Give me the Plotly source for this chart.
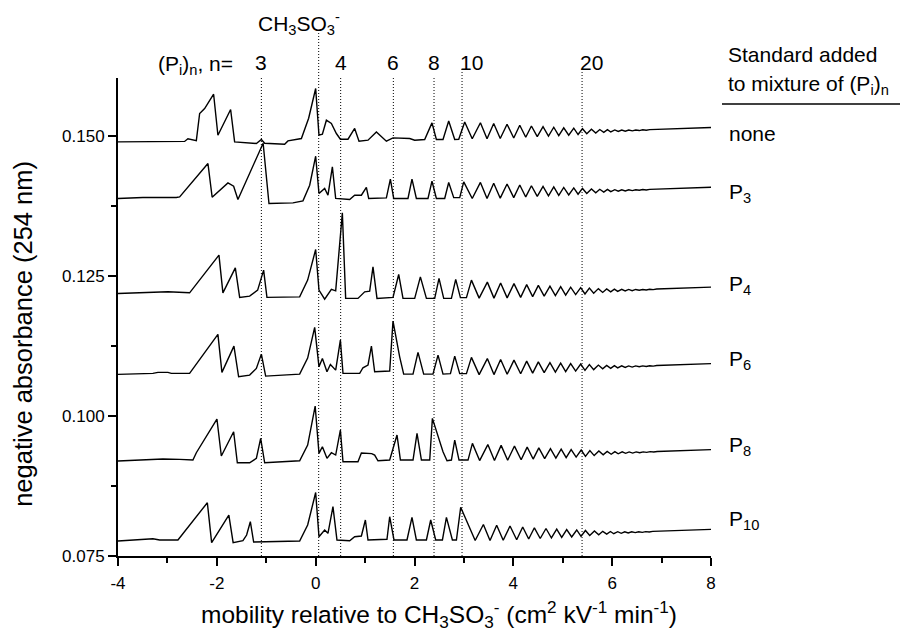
import plotly.graph_objects as go

# ---------------- data ----------------
# explicit early part of every electropherogram (x = mobility, y = negative absorbance)
none_x = [-4.0, -2.652, -2.585, -2.510, -2.415, -2.348, -2.247, -2.065, -1.978, -1.721, -1.640, -1.200, -1.099,
          -1.032, -0.628, -0.561, -0.289, -0.142, 0.000, 0.067, 0.136, 0.217, 0.318, 0.419, 0.500, 0.654, 0.789,
          0.877, 1.059, 1.229, 1.431, 1.565, 1.903, 2.004, 2.206, 2.354, 2.443, 2.577, 2.692, 2.814, 2.895, 3.016]
none_y = [0.14898, 0.14907, 0.14955, 0.14937, 0.14920, 0.15405, 0.15495, 0.15750, 0.15018, 0.15477, 0.14898,
          0.14870, 0.14941, 0.14875, 0.14857, 0.14916, 0.14959, 0.15321, 0.15852, 0.15018, 0.15036, 0.15286,
          0.15227, 0.15048, 0.14946, 0.14946, 0.15138, 0.14911, 0.14929, 0.15077, 0.14911, 0.14970, 0.14959,
          0.14929, 0.14941, 0.15238, 0.14941, 0.14941, 0.15273, 0.14941, 0.14946, 0.15255]

p3_x = [-4.0, -3.496, -2.820, -2.753, -2.180, -2.095, -1.775, -1.660, -1.573, -1.063, -0.945, -0.460, -0.257,
        -0.121, 0.000, 0.067, 0.182, 0.249, 0.338, 0.405, 0.688, 0.789, 0.925, 1.026, 1.073, 1.431, 1.512, 1.579,
        1.868, 1.949, 2.038, 2.273, 2.354, 2.443, 2.611, 2.692, 2.794, 2.915, 2.996]
p3_y = [0.13888, 0.13905, 0.13905, 0.13916, 0.14512, 0.13911, 0.14166, 0.14107, 0.13870, 0.14875, 0.13798,
        0.13809, 0.13845, 0.14125, 0.14643, 0.13977, 0.14066, 0.13946, 0.14452, 0.13888, 0.13870, 0.13946,
        0.13946, 0.14084, 0.13888, 0.13898, 0.14232, 0.13888, 0.13888, 0.14232, 0.13888, 0.13888, 0.14196,
        0.13888, 0.13888, 0.14173, 0.13902, 0.13902, 0.14184]

p4_x = [-4.0, -3.294, -2.990, -2.551, -1.957, -1.877, -1.626, -1.538, -1.336, -1.174, -1.053, -0.986, -0.324,
        -0.162, 0.000, 0.067, 0.182, 0.318, 0.405, 0.540, 0.607, 0.856, 0.992, 1.093, 1.160, 1.241, 1.565, 1.680,
        1.767, 2.004, 2.119, 2.241, 2.409, 2.496, 2.591, 2.747, 2.834, 2.929, 3.051, 3.152]
p4_y = [0.12191, 0.12220, 0.12220, 0.12202, 0.12875, 0.12202, 0.12648, 0.12120, 0.12143, 0.12250, 0.12607,
        0.12120, 0.12130, 0.12429, 0.12977, 0.12250, 0.12089, 0.12263, 0.12238, 0.13630, 0.12102, 0.12102,
        0.12220, 0.12232, 0.12666, 0.12102, 0.12120, 0.12530, 0.12102, 0.12102, 0.12487, 0.12102, 0.12102,
        0.12459, 0.12102, 0.12102, 0.12441, 0.12116, 0.12116, 0.12429]

p6_x = [-4.0, -3.294, -3.192, -2.990, -2.921, -2.551, -1.978, -1.897, -1.654, -1.559, -1.336, -1.200, -1.099,
        -1.012, -0.324, -0.162, -0.020, 0.067, 0.136, 0.229, 0.298, 0.405, 0.500, 0.553, 0.891, 0.957, 1.059,
        1.128, 1.194, 1.498, 1.565, 1.700, 1.781, 1.970, 2.071, 2.186, 2.374, 2.476, 2.577, 2.727, 2.814, 2.915,
        3.051, 3.152]
p6_y = [0.10745, 0.10763, 0.10780, 0.10780, 0.10763, 0.10763, 0.11459, 0.10780, 0.11250, 0.10702, 0.10732,
        0.10852, 0.11107, 0.10714, 0.10750, 0.11036, 0.11584, 0.10880, 0.11030, 0.10791, 0.10923, 0.10821,
        0.11357, 0.10763, 0.10763, 0.10863, 0.10911, 0.11250, 0.10791, 0.10804, 0.11696, 0.11059, 0.10750,
        0.10750, 0.11138, 0.10750, 0.10750, 0.11089, 0.10750, 0.10759, 0.11071, 0.10759, 0.10759, 0.11048]

p8_x = [-4.0, -3.294, -3.091, -2.753, -2.484, -2.415, -1.998, -1.909, -1.660, -1.585, -1.336, -1.200, -1.113,
        -1.032, -0.324, -0.162, -0.010, 0.067, 0.136, 0.229, 0.318, 0.405, 0.500, 0.553, 0.856, 0.925, 1.134,
        1.194, 1.261, 1.498, 1.646, 1.715, 1.970, 2.051, 2.140, 2.308, 2.362, 2.577, 2.658, 2.747, 2.814, 2.901,
        3.083, 3.172]
p8_y = [0.09196, 0.09214, 0.09232, 0.09227, 0.09214, 0.09345, 0.09947, 0.09286, 0.09720, 0.09166, 0.09166,
        0.09245, 0.09602, 0.09166, 0.09202, 0.09482, 0.10179, 0.09334, 0.09452, 0.09245, 0.09345, 0.09304,
        0.09750, 0.09184, 0.09184, 0.09339, 0.09330, 0.09304, 0.09202, 0.09214, 0.09661, 0.09214, 0.09214,
        0.09691, 0.09214, 0.09214, 0.09959, 0.09363, 0.09202, 0.09214, 0.09571, 0.09214, 0.09214, 0.09512]

p10_x = [-4.0, -3.496, -3.294, -3.158, -2.787, -2.192, -2.105, -1.757, -1.670, -1.472, -1.397, -1.322, -1.255,
         -0.324, -0.162, 0.000, 0.067, 0.182, 0.249, 0.350, 0.431, 0.688, 0.789, 0.925, 1.006, 1.059, 1.443,
         1.498, 1.585, 1.848, 1.949, 2.038, 2.241, 2.328, 2.429, 2.565, 2.646, 2.767, 2.848, 2.935, 3.188]
p10_y = [0.07768, 0.07798, 0.07809, 0.07786, 0.07786, 0.08452, 0.07738, 0.08232, 0.07738, 0.07773, 0.07875,
         0.08113, 0.07750, 0.07768, 0.08054, 0.08634, 0.07845, 0.07965, 0.07905, 0.08381, 0.07786, 0.07773,
         0.07845, 0.07857, 0.08143, 0.07786, 0.07798, 0.08202, 0.07786, 0.07786, 0.08191, 0.07786, 0.07786,
         0.08143, 0.07786, 0.07786, 0.08191, 0.07786, 0.07786, 0.08370, 0.07857]

# oligomer ripple (n >= 11), common to all traces: positions and height above each trace's trough level
ripple_x = [3.168, 3.334, 3.468, 3.603, 3.735, 3.873, 4.008, 4.130, 4.251, 4.366, 4.484, 4.601, 4.711, 4.818,
            4.919, 5.020, 5.121, 5.223, 5.310, 5.399, 5.486, 5.581, 5.668, 5.749, 5.830, 5.905, 5.972, 6.053,
            6.123, 6.194, 6.265, 6.336, 6.407, 6.478, 6.549, 6.619, 6.690, 6.761, 8.0]
ripple_dy = [0, 0.00286, 0, 0.00271, 0.00005, 0.00259, 0.00014, 0.00241, 0.00027, 0.00227, 0.00036, 0.00214,
             0.00045, 0.00205, 0.00054, 0.00196, 0.00063, 0.00188, 0.00075, 0.00179, 0.00089, 0.00170, 0.00102,
             0.00164, 0.00113, 0.00161, 0.00121, 0.00157, 0.00129, 0.00155, 0.00134, 0.00155, 0.00141, 0.00155,
             0.00146, 0.00159, 0.00152, 0.00163, 0.00200]

trace_names = ["none", "P3", "P4", "P6", "P8", "P10"]
ripple_base = [0.14955, 0.13888, 0.12107, 0.10741, 0.09205, 0.07777]
ripple_shift = [0.0, 0.0, 0.14, 0.14, 0.15, 0.06]

# dotted reference lines and their labels
marker_x = [-1.099, 0.061, 0.506, 1.572, 2.395, 2.962, 5.391]

x_ticks = [-4, -2, 0, 2, 4, 6, 8]
x_minor = [-3, -1, 1, 3, 5, 7]
y_ticks = [0.075, 0.100, 0.125, 0.150]
y_ticktext = ["0.075", "0.100", "0.125", "0.150"]
y_minor = [0.0875, 0.1125, 0.1375]

# ---------------- figure ----------------
FONT = "Arial, 'Liberation Sans', Helvetica, sans-serif"
fig = go.Figure()

early = [(none_x, none_y), (p3_x, p3_y), (p4_x, p4_y), (p6_x, p6_y), (p8_x, p8_y), (p10_x, p10_y)]
for (xs, ys), base, shift, name in zip(early, ripple_base, ripple_shift, trace_names):
    x = list(xs) + [v + shift for v in ripple_x]
    y = list(ys) + [base + d for d in ripple_dy]
    fig.add_trace(go.Scatter(x=x, y=y, mode="lines", name=name,
                             line=dict(color="black", width=1.4), hoverinfo="skip"))

line_top = [1.0, 1.094, 1.0, 1.0, 1.0, 1.02, 1.02]
shapes = []
for xv, top in zip(marker_x, line_top):
    shapes.append(dict(type="line", xref="x", yref="paper", x0=xv, x1=xv, y0=0, y1=top,
                       line=dict(color="black", width=1, dash="1px,2px")))
# rule under the legend heading
shapes.append(dict(type="line", xref="paper", yref="paper", x0=1.0185, x1=1.32, y0=0.9456, y1=0.9456,
                   line=dict(color="black", width=1.5)))

ann = []
def A(text, x, y, xanchor="center", yanchor="middle", size=21, xref="paper", yref="paper", angle=0):
    ann.append(dict(text=text, x=x, y=y, xref=xref, yref=yref, xanchor=xanchor, yanchor=yanchor,
                    showarrow=False, textangle=angle, font=dict(family=FONT, size=size, color="black")))

# top labels
A("CH<sub>3</sub>SO<sub>3</sub><sup>-</sup>", -1.215, 1.114, xanchor="left", xref="x")
A("(P<sub>i</sub>)<sub>n</sub>, n=", 0.1973, 1.028, xanchor="right")
A("3", marker_x[0], 1.032, xref="x")
A("4", marker_x[2], 1.032, xref="x")
A("6", marker_x[3], 1.032, xref="x")
A("8", marker_x[4], 1.032, xref="x")
A("10", 2.874, 1.032, xanchor="left", xref="x")
A("20", 5.304, 1.032, xanchor="left", xref="x")
# legend heading
A("Standard added", 1.0253, 1.050, xanchor="left")
A("to mixture of (P<sub>i</sub>)<sub>n</sub>", 1.0253, 0.985, xanchor="left")
# trace labels
label_text = ["none", "P<sub>3</sub>", "P<sub>4</sub>", "P<sub>6</sub>", "P<sub>8</sub>", "P<sub>10</sub>"]
label_y = [0.8849, 0.760, 0.566, 0.409, 0.231, 0.076]
for t, yy in zip(label_text, label_y):
    A(t, 1.027, yy, xanchor="left")
# axis titles
A("mobility relative to CH<sub>3</sub>SO<sub>3</sub><sup>-</sup> (cm<sup>2</sup> kV<sup>-1</sup> min<sup>-1</sup>)",
  0.1366, -0.122, xanchor="left", size=24.5)
A("negative absorbance (254 nm)", -0.160, 0.465, size=25.5, angle=-90)

fig.update_layout(
    width=900, height=633,
    margin=dict(l=118, r=189, t=78, b=77),
    paper_bgcolor="white", plot_bgcolor="white",
    showlegend=False,
    font=dict(family=FONT, color="black"),
    shapes=shapes, annotations=ann,
    xaxis=dict(range=[-4, 8], tickmode="array", tickvals=x_ticks, ticktext=[str(v) for v in x_ticks],
               ticks="outside", ticklen=8, tickwidth=2, tickcolor="black",
               showline=True, linewidth=2, linecolor="black", showgrid=False, zeroline=False,
               ticklabelstandoff=3,
               tickfont=dict(size=17, family=FONT, color="black"),
               minor=dict(tickmode="array", tickvals=x_minor, ticks="outside", ticklen=5, tickwidth=2,
                          tickcolor="black", showgrid=False)),
    yaxis=dict(range=[0.075, 0.1604], tickmode="array", tickvals=y_ticks, ticktext=y_ticktext,
               ticks="outside", ticklen=8, tickwidth=2, tickcolor="black",
               showline=True, linewidth=2, linecolor="black", showgrid=False, zeroline=False,
               tickfont=dict(size=17, family=FONT, color="black"),
               minor=dict(tickmode="array", tickvals=y_minor, ticks="outside", ticklen=5, tickwidth=2,
                          tickcolor="black", showgrid=False)),
)

fig.write_html("out.html")
